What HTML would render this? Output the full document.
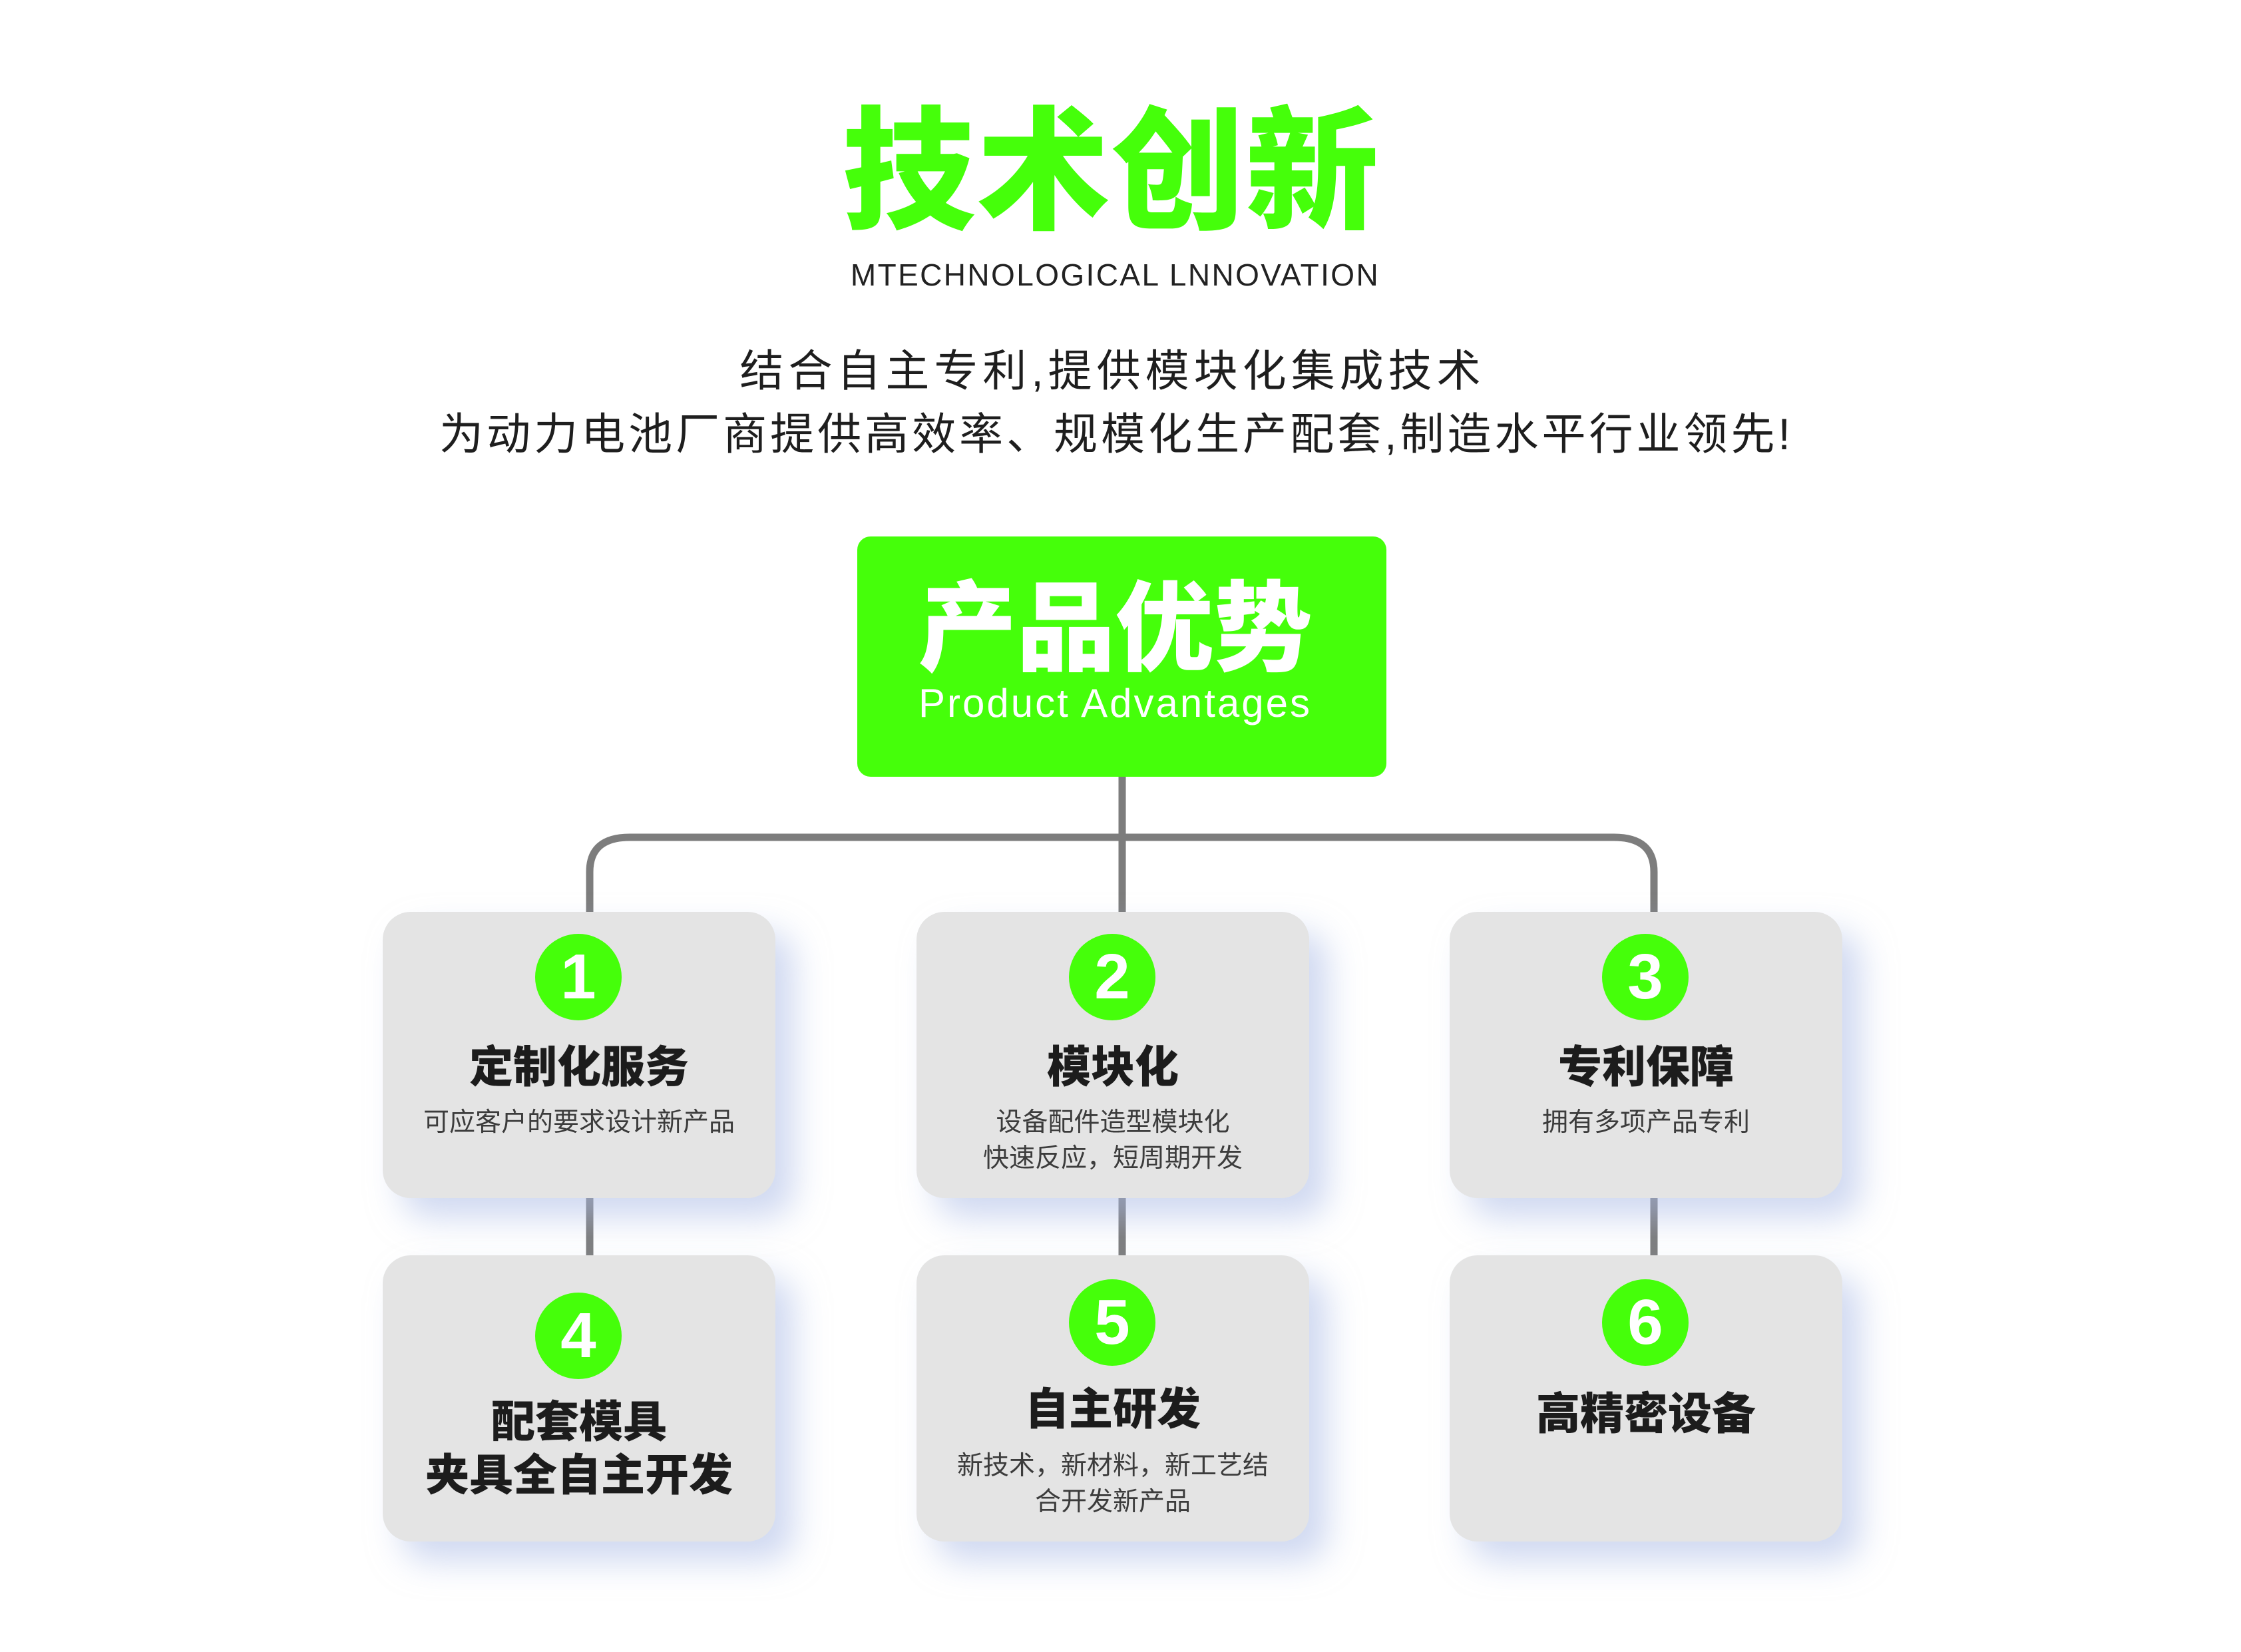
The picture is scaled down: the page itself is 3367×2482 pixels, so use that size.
<!DOCTYPE html>
<html><head><meta charset="utf-8"><style>
*{margin:0;padding:0;box-sizing:border-box}
body{width:3367px;height:2482px;background:#fff;position:relative;overflow:hidden;font-family:"Liberation Sans","Noto Sans CJK SC",sans-serif}
.a{position:absolute}
.c{text-align:center;white-space:nowrap}
.card{position:absolute;width:590px;height:430px;background:#e4e4e4;border-radius:42px;box-shadow:28px 30px 50px rgba(170,185,230,0.55)}
.circ{position:absolute;width:130px;height:130px;border-radius:50%;background:#45ff0a;color:#fff;font-size:96px;font-weight:bold;line-height:130px;text-align:center;font-family:"Liberation Sans",sans-serif}
.t{position:absolute;left:0;width:590px;text-align:center;font-size:66px;font-weight:900;color:#1c1c1c;white-space:nowrap;font-family:"Liberation Sans","Noto Sans CJK SC",sans-serif}
.d{position:absolute;left:0;width:590px;text-align:center;font-size:39px;color:#3c3c3c;white-space:nowrap;line-height:54px}
</style></head><body>
<div class="a c" style="left:-14px;width:3367px;top:140px;font-size:200px;font-weight:900;color:#45ff0a;line-height:240px;letter-spacing:2px">技术创新</div>
<div class="a c" style="left:-8px;width:3367px;top:385px;font-size:46px;color:#222;letter-spacing:2.4px;line-height:56px">MTECHNOLOGICAL LNNOVATION</div>
<div class="a c" style="left:-12px;width:3367px;top:515px;font-size:66px;color:#1e1e1e;line-height:84px;letter-spacing:7px">结合自主专利,提供模块化集成技术</div>
<div class="a c" style="left:-6px;width:3367px;top:610px;font-size:66px;color:#1e1e1e;line-height:84px;letter-spacing:5px">为动力电池厂商提供高效率、规模化生产配套,制造水平行业领先!</div>

<svg class="a" style="left:0;top:0" width="3367" height="2482">
<g stroke="#7d7d7d" stroke-width="11" fill="none">
<path d="M1686 1160 V1380"/>
<path d="M886 1380 V1310 Q886 1258 946 1258 H2425 Q2485 1258 2485 1310 V1380"/>
<path d="M886 1790 V1895"/><path d="M1686 1790 V1895"/><path d="M2485 1790 V1895"/>
</g></svg>

<div class="a" style="left:1288px;top:806px;width:795px;height:361px;background:#45ff0a;border-radius:20px"></div>
<div class="a c" style="left:1278px;width:795px;top:866px;font-size:148px;font-weight:900;color:#fff;line-height:160px">产品优势</div>
<div class="a c" style="left:1278px;width:795px;top:1022px;font-size:60px;color:#fff;line-height:70px;letter-spacing:3px">Product Advantages</div>

<div class="card" style="left:575px;top:1370px"><div class="circ" style="left:229px;top:33px">1</div><div class="t" style="top:180px">定制化服务</div><div class="d" style="top:290px">可应客户的要求设计新产品</div></div>
<div class="card" style="left:1377px;top:1370px"><div class="circ" style="left:229px;top:33px">2</div><div class="t" style="top:180px">模块化</div><div class="d" style="top:290px">设备配件造型模块化<br>快速反应，短周期开发</div></div>
<div class="card" style="left:2178px;top:1370px"><div class="circ" style="left:229px;top:33px">3</div><div class="t" style="top:180px">专利保障</div><div class="d" style="top:290px">拥有多项产品专利</div></div>

<div class="card" style="left:575px;top:1886px"><div class="circ" style="left:229px;top:56px">4</div><div class="t" style="top:210px;line-height:80px">配套模具<br>夹具全自主开发</div></div>
<div class="card" style="left:1377px;top:1886px"><div class="circ" style="left:229px;top:36px">5</div><div class="t" style="top:178px">自主研发</div><div class="d" style="top:290px">新技术，新材料，新工艺结<br>合开发新产品</div></div>
<div class="card" style="left:2178px;top:1886px"><div class="circ" style="left:229px;top:36px">6</div><div class="t" style="top:185px">高精密设备</div></div>
</body></html>
